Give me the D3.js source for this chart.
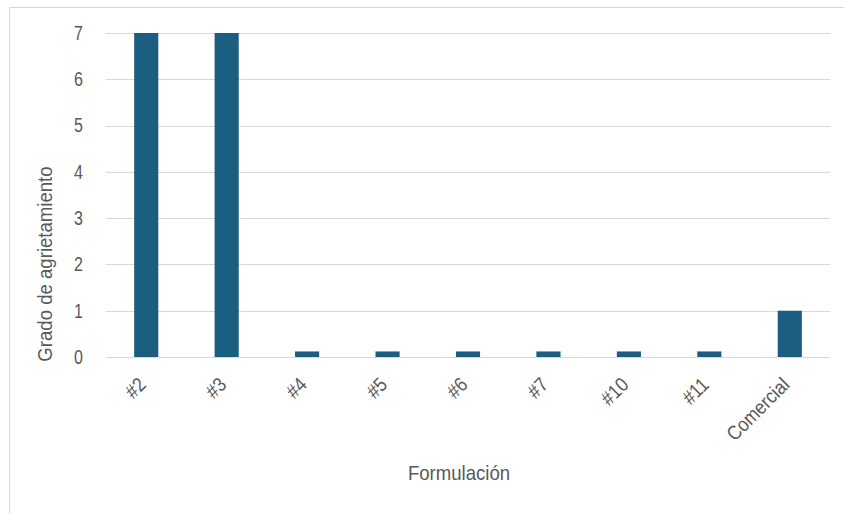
<!DOCTYPE html>
<html><head><meta charset="utf-8">
<script src="https://cdn.jsdelivr.net/npm/d3@7"></script>
<style>
html,body{margin:0;padding:0;background:#fff;}
svg text{font-family:"Liberation Sans Narrow","Arial Narrow","Liberation Sans",Arial,sans-serif;fill:#595959;}
</style></head>
<body>
<svg id="chart" width="844" height="514"></svg>
<script>
const categories = ["#2","#3","#4","#5","#6","#7","#10","#11","Comercial"];
const values = [7,7,0.12,0.12,0.12,0.12,0.12,0.12,1];
const yTicks = [0,1,2,3,4,5,6,7];
const xTitle = "Formulación";
const yTitle = "Grado de agrietamiento";

const svg = d3.select("#chart");
// chart border
svg.append("rect").attr("x",9.5).attr("y",7.5).attr("width",850).attr("height",520)
  .attr("fill","none").attr("stroke","#d9d9d9").attr("stroke-width",1);

const m = {left:106, right:830, top:33, bottom:357};
const x = d3.scaleBand().domain(categories).range([m.left,m.right]).paddingInner(0.7).paddingOuter(0.35);
const y = d3.scaleLinear().domain([0,7]).range([m.bottom,m.top]);

// gridlines
svg.append("g").selectAll("line").data(yTicks).join("line")
  .attr("x1",m.left).attr("x2",m.right)
  .attr("y1",d=>Math.round(y(d))+0.5).attr("y2",d=>Math.round(y(d))+0.5)
  .attr("stroke","#d9d9d9").attr("stroke-width",1);

// y axis labels
const yAxis = d3.axisLeft(y).tickValues(yTicks).tickFormat(d3.format("d")).tickSize(0).tickPadding(0);
const gy = svg.append("g").attr("transform",`translate(${m.left-23},0)`).call(yAxis);
gy.select(".domain").remove();
gy.selectAll("text").attr("font-size","20px")
  .style("font-family",'"Liberation Sans Narrow","Arial Narrow","Liberation Sans",sans-serif')
  .attr("fill","#595959").attr("x",0).attr("transform","scale(0.8,1)");

// bars
svg.append("g").selectAll("rect").data(categories.map((c,i)=>({c,v:values[i]}))).join("rect")
  .attr("x",d=>x(d.c)).attr("width",x.bandwidth())
  .attr("y",d=>y(d.v)).attr("height",d=>y(0)-y(d.v))
  .attr("fill","#1b5e7f");

// x axis labels
const xAxis = d3.axisBottom(x).tickSize(0).tickPadding(0);
const gx = svg.append("g").attr("transform",`translate(0,${m.bottom})`).call(xAxis);
gx.select(".domain").remove();
gx.selectAll("text")
  .attr("font-size","20px")
  .style("font-family",'"Liberation Sans Narrow","Arial Narrow","Liberation Sans",sans-serif')
  .attr("fill","#595959")
  .attr("text-anchor","end").attr("dy","0.35em").attr("y",0)
  .attr("transform","translate(-4,24) rotate(-45) scale(0.88,1)");

// titles
svg.append("text").attr("transform","translate(459,480) scale(0.93,1)").attr("text-anchor","middle")
  .attr("font-size","20px").text(xTitle);
svg.append("text").attr("transform","translate(52,264) rotate(-90) scale(0.93,1)").attr("text-anchor","middle")
  .attr("font-size","20px").text(yTitle);
</script>
</body></html>
